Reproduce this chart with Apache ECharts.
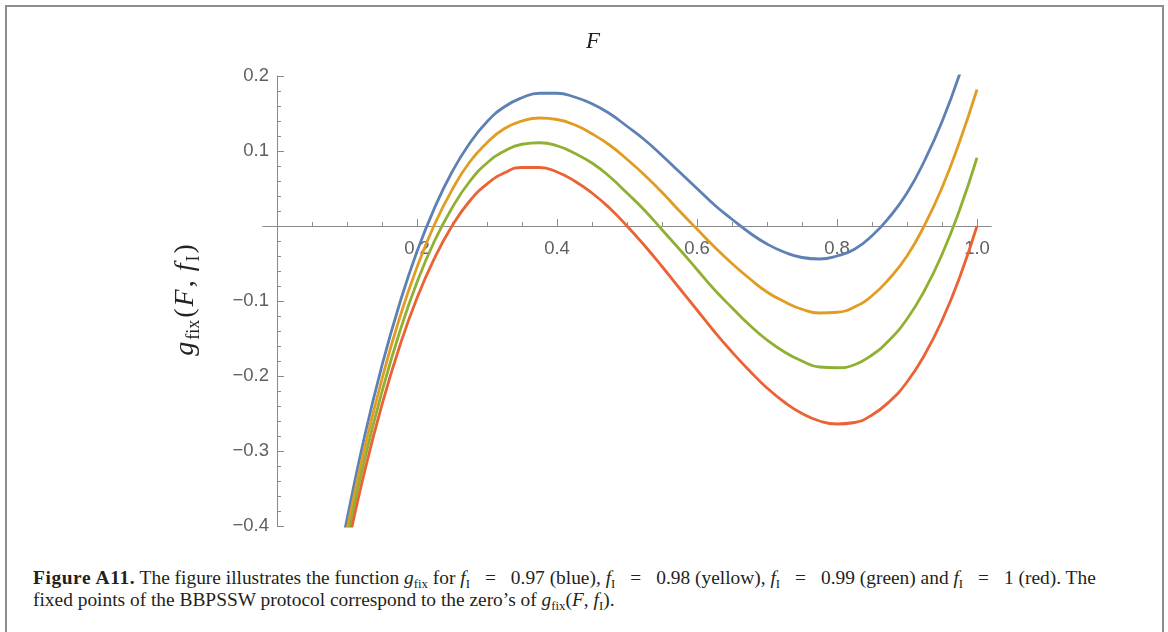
<!DOCTYPE html>
<html>
<head>
<meta charset="utf-8">
<title>g_fix</title>
<script src="https://cdn.jsdelivr.net/npm/echarts@6/dist/echarts.min.js"></script>
<style>
  html, body { margin: 0; padding: 0; background: #fff; }
  .frame {
    position: absolute; left: 5px; top: 5px;
    width: 1155px; height: 660px;
    border: 2px solid #8e8e8e; border-bottom: none;
  }
  #chart { position: absolute; left: 0; top: 0; width: 1168px; height: 550px; }
  .caption {
    position: absolute; left: 33px; top: 567px;
    font-family: 'Liberation Serif', 'DejaVu Serif', serif;
    font-size: 19.4px; line-height: 22px; color: #231f20;
    white-space: nowrap;
  }
  .caption b { letter-spacing: 0.6px; }
  .caption sub { font-size: 66%; vertical-align: -4px; line-height: 0; font-style: normal; }
  .caption i { font-style: italic; }
  .caption .op { margin: 0 15px; }
</style>
</head>
<body>
<div class="frame"></div>
<div id="chart"></div>
<div class="caption">
  <b>Figure A11.</b> The figure illustrates the function <i>g</i><sub>fix</sub> for <i>f</i><sub>I</sub><span class="op">=</span>0.97 (blue), <i>f</i><sub>I</sub><span class="op">=</span>0.98 (yellow), <i>f</i><sub>I</sub><span class="op">=</span>0.99 (green) and <i>f</i><sub>I</sub><span class="op">=</span>1 (red). The<br>
  fixed points of the BBPSSW protocol correspond to the zero’s of <i>g</i><sub>fix</sub>(<i>F</i>, <i>f</i><sub>I</sub>).
</div>
<script>
// values (F on x, g_fix on y)
const fGrid = [0.09, 0.1, 0.125, 0.15, 0.175, 0.2, 0.225, 0.25, 0.275, 0.3, 0.325, 0.35, 0.375, 0.4, 0.425, 0.45, 0.475, 0.5,
  0.525, 0.55, 0.575, 0.6, 0.625, 0.65, 0.675, 0.7, 0.725, 0.75, 0.775, 0.8, 0.825, 0.85, 0.875, 0.9, 0.925, 0.95, 0.975, 1.0];
const gBlue = [-0.439, -0.391, -0.281, -0.186, -0.104, -0.034, 0.024, 0.072, 0.110, 0.139, 0.159, 0.171, 0.177, 0.177, 0.172, 0.163, 0.150, 0.133,
  0.115, 0.094, 0.072, 0.050, 0.028, 0.009, -0.009, -0.024, -0.035, -0.042, -0.044, -0.040, -0.031, -0.013, 0.012, 0.044, 0.087, 0.139, 0.202, 0.278];
const gYellow = [-0.452, -0.405, -0.297, -0.204, -0.123, -0.055, 0.002, 0.048, 0.085, 0.111, 0.130, 0.140, 0.144, 0.142, 0.135, 0.123, 0.108, 0.089,
  0.068, 0.045, 0.020, -0.004, -0.028, -0.050, -0.070, -0.088, -0.101, -0.111, -0.116, -0.115, -0.108, -0.093, -0.070, -0.040, 0.001, 0.051, 0.112, 0.182];
const gGreen = [-0.465, -0.418, -0.312, -0.221, -0.142, -0.075, -0.020, 0.024, 0.059, 0.084, 0.100, 0.109, 0.111, 0.107, 0.097, 0.084, 0.066, 0.044,
  0.021, -0.005, -0.031, -0.058, -0.085, -0.109, -0.132, -0.152, -0.168, -0.180, -0.188, -0.189, -0.185, -0.172, -0.152, -0.124, -0.086, -0.038, 0.021, 0.091];
const gRed = [-0.478, -0.432, -0.328, -0.238, -0.161, -0.096, -0.043, 0.000, 0.033, 0.056, 0.071, 0.078, 0.078, 0.072, 0.060, 0.044, 0.024, 0.000,
  -0.026, -0.054, -0.083, -0.112, -0.141, -0.168, -0.193, -0.216, -0.235, -0.250, -0.260, -0.264, -0.262, -0.252, -0.234, -0.208, -0.172, -0.126, -0.069, 0.000];

const xLabelTicks = [0.2, 0.4, 0.6, 0.8, 1.0];
const xMinorTicks = [0.05, 0.1, 0.15, 0.25, 0.3, 0.35, 0.45, 0.5, 0.55, 0.65, 0.7, 0.75, 0.85, 0.9, 0.95];

const axisGrey = '#8a8a8a';
const labelGrey = '#606060';
const tickFont = "'Liberation Sans', Arial, sans-serif";
const serif = "'Liberation Serif', 'DejaVu Serif', serif";

function curve(name, vals, color) {
  return {
    name: name,
    type: 'line',
    data: fGrid.map((f, i) => [f, vals[i]]),
    smooth: true,
    showSymbol: false,
    clip: true,
    lineStyle: { color: color, width: 2.8 },
    itemStyle: { color: color }
  }
}

// the axes cross at (0, 0): x axis moved up to g = 0, y axis moved right to F = 0
const xAxisOffset = -300;
const yAxisOffset = -14;

const chart = echarts.init(document.getElementById('chart'));
chart.setOption({
  animation: false,
  grid: { left: 263, top: 76, width: 728, height: 450 },
  xAxis: [{
    type: 'value',
    min: -0.02,
    max: 1.02,
    position: 'bottom',
    offset: xAxisOffset,
    axisLine: { onZero: false, lineStyle: { color: axisGrey, width: 1 } },
    axisTick: { show: true, inside: true, length: 4, customValues: xMinorTicks, lineStyle: { color: axisGrey } },
    axisLabel: {
      customValues: xLabelTicks,
      formatter: v => v.toFixed(1),
      margin: 13,
      color: labelGrey,
      fontSize: 18.5,
      fontFamily: tickFont
    },
    splitLine: { show: false }
  }, {
    // longer ticks under the labels
    type: 'value',
    min: -0.02,
    max: 1.02,
    position: 'bottom',
    offset: xAxisOffset,
    axisLine: { onZero: false, lineStyle: { color: axisGrey, width: 1 } },
    axisTick: { show: true, inside: true, length: 7, customValues: xLabelTicks, lineStyle: { color: axisGrey } },
    axisLabel: { show: false },
    splitLine: { show: false }
  }],
  yAxis: {
    type: 'value',
    min: -0.4,
    max: 0.2,
    interval: 0.1,
    position: 'left',
    offset: yAxisOffset,
    axisLine: { show: true, onZero: false, lineStyle: { color: axisGrey, width: 1 } },
    axisTick: { show: true, inside: true, length: 7, lineStyle: { color: axisGrey } },
    minorTick: { show: true, splitNumber: 5, length: 4, lineStyle: { color: axisGrey } },
    axisLabel: {
      formatter: v => {
        if (Math.abs(v) < 1e-9) return '';
        return v < 0 ? '\u2212' + (-v).toFixed(1) : v.toFixed(1);
      },
      margin: 8,
      color: labelGrey,
      fontSize: 18.5,
      fontFamily: tickFont
    },
    splitLine: { show: false }
  },
  graphic: [{
    type: 'text',
    x: 593,
    y: 42,
    style: {
      text: 'F',
      font: 'italic 23px ' + serif,
      fill: '#222',
      align: 'center',
      verticalAlign: 'middle'
    }
  }, {
    type: 'text',
    x: 186,
    y: 300,
    rotation: Math.PI / 2,
    style: {
      text: '{i|g}{s|fix}{r|(}{i|F}{r|, }{i|f}{s|I}{r|)}',
      align: 'center',
      verticalAlign: 'middle',
      fill: '#222',
      rich: {
        i: { fontFamily: serif, fontStyle: 'italic', fontSize: 28, lineHeight: 34, fill: '#222', padding: [0, 1] },
        r: { fontFamily: serif, fontSize: 28, lineHeight: 34, fill: '#222', padding: [0, 1] },
        s: { fontFamily: serif, fontSize: 18, lineHeight: 18, verticalAlign: 'bottom', fill: '#222', padding: [0, 1] }
      }
    }
  }],
  series: [
    curve('f_I = 0.97', gBlue, '#5E81B5'),
    curve('f_I = 0.98', gYellow, '#E19C24'),
    curve('f_I = 0.99', gGreen, '#8FB032'),
    curve('f_I = 1', gRed, '#EB6235')
  ]
});
</script>
</body>
</html>
